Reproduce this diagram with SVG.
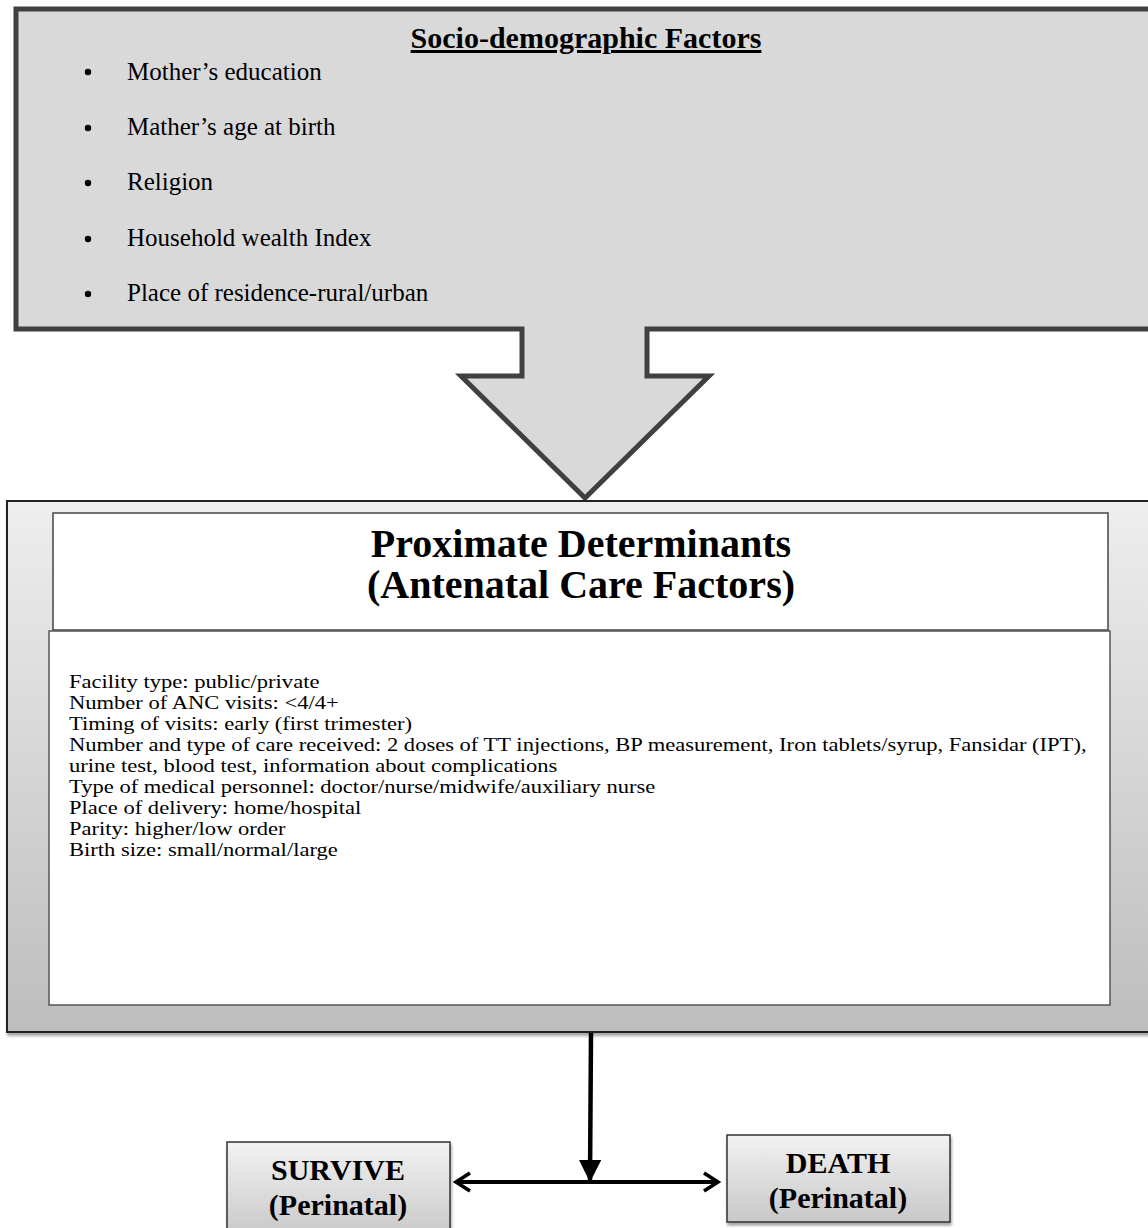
<svg xmlns="http://www.w3.org/2000/svg" width="1148" height="1228" viewBox="0 0 1148 1228">
<style>
.serif{font-family:"Liberation Serif","Times New Roman",serif;fill:#000}
.bul{font-size:25px}
.body{font-size:18.8px}
.b{font-weight:bold}
</style>
<defs>
<linearGradient id="gMid" x1="0" y1="0" x2="0" y2="1">
<stop offset="0" stop-color="#eeeeee"/>
<stop offset="1" stop-color="#bdbdbd"/>
</linearGradient>
<linearGradient id="gBox" x1="0" y1="0" x2="0" y2="1">
<stop offset="0" stop-color="#f2f2f2"/>
<stop offset="1" stop-color="#c8c8c8"/>
</linearGradient>
<filter id="sh" x="-5%" y="-5%" width="110%" height="110%">
<feDropShadow dx="1" dy="3" stdDeviation="1.5" flood-color="#000" flood-opacity="0.35"/>
</filter>
<marker id="head" viewBox="0 0 10 10" refX="9" refY="5" markerWidth="5" markerHeight="5" orient="auto">
<path d="M0,0 L10,5 L0,10 z" fill="#000"/>
</marker>
<marker id="chev" viewBox="0 0 12 12" refX="10" refY="6" markerWidth="6" markerHeight="6" orient="auto-start-reverse">
<path d="M3,1.5 L10,6 L3,10.5" fill="none" stroke="#000" stroke-width="1.8"/>
</marker>
</defs>
<rect width="1148" height="1228" fill="#fff"/>

<g id="socio">
<path d="M16,9 H1152 V329 H647 V376 H709 L585,498 L461,376 L522,376 V329 H16 Z" fill="#d9d9d9" stroke="#404040" stroke-width="5" stroke-linejoin="miter"/>
<text class="serif b" x="586" y="48" font-size="30" text-anchor="middle" text-decoration="underline">Socio-demographic Factors</text>
<g class="serif bul">
<circle cx="88" cy="72" r="3.2" fill="#000"/><text x="127" y="80">Mother’s education</text>
<circle cx="88" cy="128" r="3.2" fill="#000"/><text x="127" y="135">Mather’s age at birth</text>
<circle cx="88" cy="183" r="3.2" fill="#000"/><text x="127" y="190">Religion</text>
<circle cx="88" cy="239" r="3.2" fill="#000"/><text x="127" y="246">Household wealth Index</text>
<circle cx="88" cy="294" r="3.2" fill="#000"/><text x="127" y="301">Place of residence-rural/urban</text>
</g>
</g>

<g id="proximate">
<rect x="7" y="501" width="1150" height="531" fill="url(#gMid)" stroke="#222" stroke-width="2" filter="url(#sh)"/>
<rect x="53" y="513" width="1055" height="117" fill="#fff" stroke="#444" stroke-width="1.5"/>
<rect x="49" y="631" width="1061" height="374" fill="#fff" stroke="#555" stroke-width="1.5"/>
<text class="serif b" x="581" y="557" font-size="40" text-anchor="middle">Proximate Determinants</text>
<text class="serif b" x="581" y="598" font-size="40" text-anchor="middle">(Antenatal Care Factors)</text>
<g class="serif body" transform="translate(69,0) scale(1.2,1)">
<text x="0" y="688">Facility type: public/private</text>
<text x="0" y="709">Number of ANC visits: &lt;4/4+</text>
<text x="0" y="730">Timing of visits: early (first trimester)</text>
<text x="0" y="751">Number and type of care received: 2 doses of TT injections, BP measurement, Iron tablets/syrup, Fansidar (IPT),</text>
<text x="0" y="772">urine test, blood test, information about complications</text>
<text x="0" y="793">Type of medical personnel: doctor/nurse/midwife/auxiliary nurse</text>
<text x="0" y="814">Place of delivery: home/hospital</text>
<text x="0" y="835">Parity: higher/low order</text>
<text x="0" y="856">Birth size: small/normal/large</text>
</g>
</g>

<g id="survive">
<rect x="227" y="1142" width="223" height="95" fill="url(#gBox)" stroke="#333" stroke-width="1.5" filter="url(#sh)"/>
<text class="serif b" x="338" y="1180" font-size="30" text-anchor="middle">SURVIVE</text>
<text class="serif b" x="338" y="1215" font-size="30" text-anchor="middle">(Perinatal)</text>
</g>

<g id="death">
<rect x="727" y="1135" width="223" height="87" fill="url(#gBox)" stroke="#333" stroke-width="1.5" filter="url(#sh)"/>
<text class="serif b" x="838" y="1173" font-size="30" text-anchor="middle">DEATH</text>
<text class="serif b" x="838" y="1208" font-size="30" text-anchor="middle">(Perinatal)</text>
</g>

<g id="connectors" stroke="#000" fill="none">
<line x1="591" y1="1033" x2="590" y2="1180" stroke-width="4.5" marker-end="url(#head)"/>
<line x1="456" y1="1182" x2="718" y2="1182" stroke-width="4" marker-start="url(#chev)" marker-end="url(#chev)"/>
</g>
</svg>
